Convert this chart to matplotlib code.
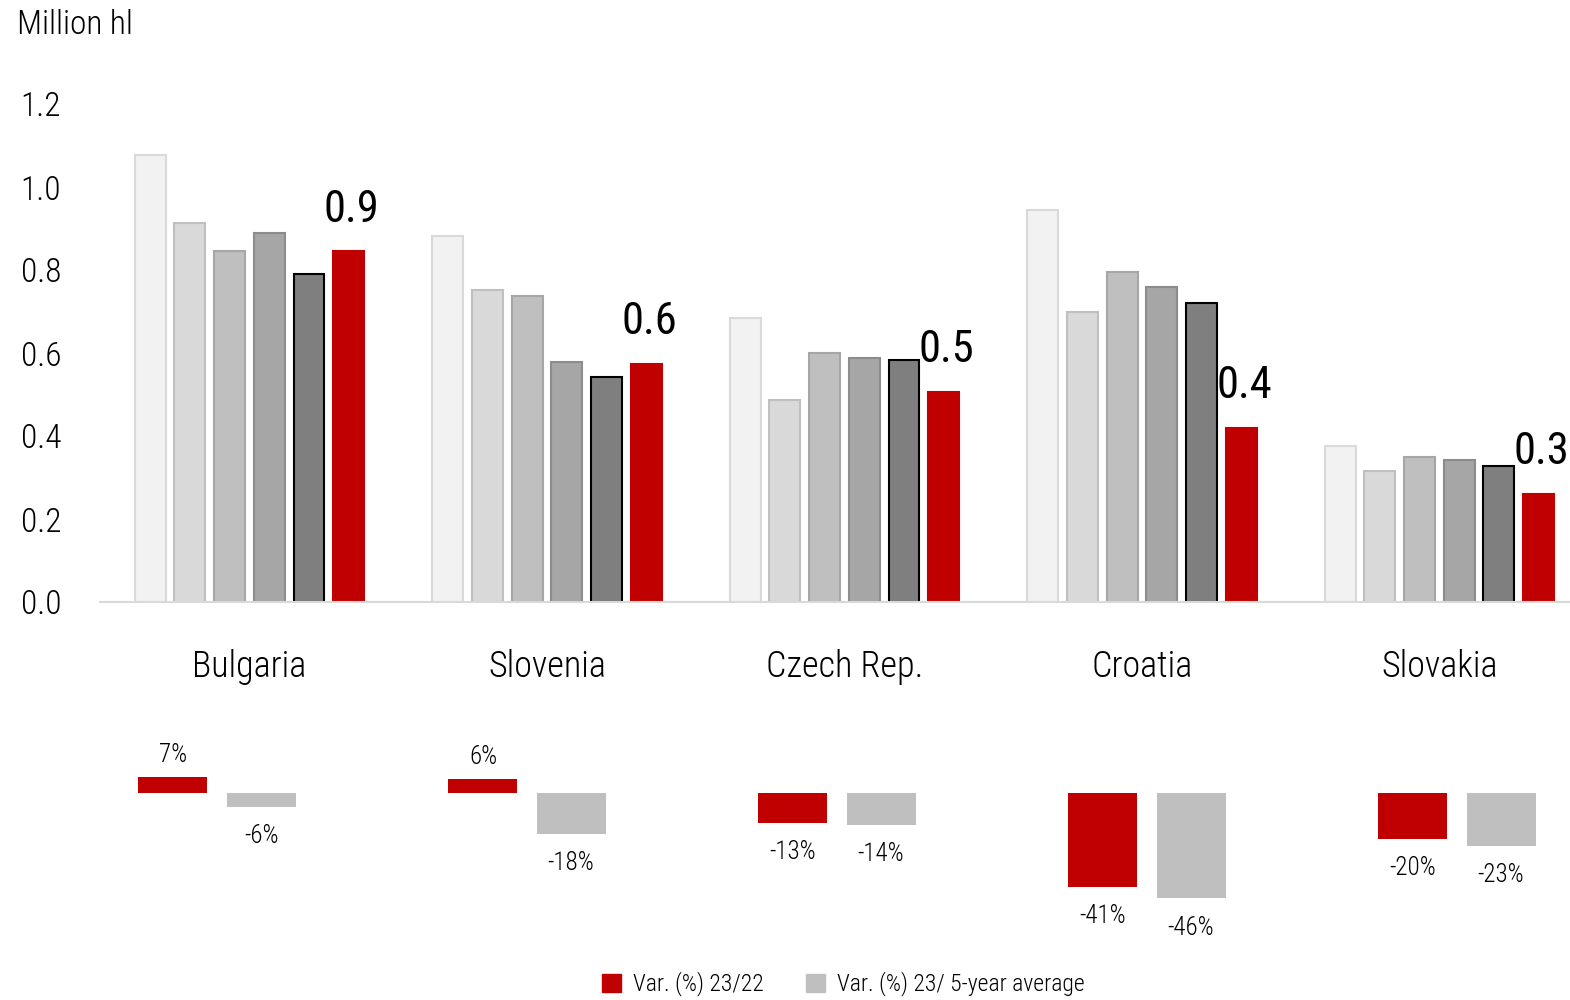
import matplotlib
matplotlib.use("Agg")
import numpy as np
import matplotlib.pyplot as plt
from matplotlib.patches import Patch

plt.rcParams['font.family'] = ['Roboto Condensed', 'Liberation Sans Narrow', 'DejaVu Sans']
plt.rcParams['font.weight'] = 'light'

countries = ['Bulgaria', 'Slovenia', 'Czech Rep.', 'Croatia', 'Slovakia']
years = ['2018', '2019', '2020', '2021', '2022', '2023']
# million hl, one list per year
y2018 = [1.077, 0.882, 0.684, 0.945, 0.376]
y2019 = [0.913, 0.752, 0.487, 0.699, 0.316]
y2020 = [0.846, 0.737, 0.600, 0.795, 0.349]
y2021 = [0.889, 0.578, 0.588, 0.759, 0.342]
y2022 = [0.790, 0.542, 0.583, 0.720, 0.328]
y2023 = [0.845, 0.573, 0.506, 0.419, 0.260]
labels_2023 = ['0.9', '0.6', '0.5', '0.4', '0.3']

var_23_22 = [7, 6, -13, -41, -20]
var_23_avg = [-6, -18, -14, -46, -23]

series = [y2018, y2019, y2020, y2021, y2022, y2023]
faces = ['#F2F2F2', '#D9D9D9', '#BFBFBF', '#A6A6A6', '#7F7F7F', '#C00000']
edges = ['#D9D9D9', '#BFBFBF', '#A6A6A6', '#8C8C8C', '#000000', '#C00000']
red = '#C00000'
grey = '#BFBFBF'

W, H = 1570, 1000
fig = plt.figure(figsize=(15.7, 10), dpi=100)

# main chart
ax = fig.add_axes([100 / W, 1 - 602 / H, 1470 / W, 498 / H])
x = np.arange(len(countries))
pitch = 0.1334
w = 0.104
for i, vals in enumerate(series):
    pos = x + (i - 2.5) * pitch
    ax.bar(pos, vals, width=w, color=faces[i], edgecolor=edges[i], linewidth=1.5,
           label=years[i], zorder=2)
    if i == 5:
        for px, v, t in zip(pos, vals, labels_2023):
            ax.text(px + 0.01, v + 0.05, t, ha='center', va='bottom', fontsize=32,
                    fontweight='normal', color='black', clip_on=False)

ax.set_xlim(-0.5025, 4.439)
ax.set_ylim(0, 1.2)
ax.set_yticks(np.arange(0, 1.21, 0.2))
ax.set_yticklabels([f'{v:.1f}' for v in np.arange(0, 1.21, 0.2)], fontsize=24)
ax.set_xticks(x)
ax.set_xticklabels(countries, fontsize=26)
ax.tick_params(axis='y', length=0, pad=28)
ax.tick_params(axis='x', length=0, pad=34)
for s in ['top', 'right', 'left']:
    ax.spines[s].set_visible(False)
ax.spines['bottom'].set_color('#D9D9D9')
ax.spines['bottom'].set_linewidth(1.5)
fig.text(0.011, 0.975, 'Million hl', fontsize=24, va='center', ha='left')

# variation chart
ax2 = fig.add_axes([100 / W, 1 - 907.5 / H, 1470 / W, 160.3 / H])
x2 = np.arange(len(countries))
bw = 0.2226
off = 0.142
ax2.bar(x2 - off, var_23_22, width=bw, color=red, label='Var. (%) 23/22')
ax2.bar(x2 + off, var_23_avg, width=bw, color=grey, label='Var. (%) 23/ 5-year average')
for xi, a, b in zip(x2, var_23_22, var_23_avg):
    for px, v in ((xi - off, a), (xi + off, b)):
        if v >= 0:
            ax2.text(px, v + 4.5, f'{v}%', ha='center', va='bottom', fontsize=18)
        else:
            ax2.text(px, v - 7.5, f'{v}%', ha='center', va='top', fontsize=18)
ax2.set_xlim((100 - 217) / 310, (1570 - 217) / 310)
ax2.set_ylim(-50, 20)
ax2.axis('off')

handles = [Patch(color=red), Patch(color=grey)]
fig.legend(handles, ['Var. (%) 23/22', 'Var. (%) 23/ 5-year average'],
           loc='center', bbox_to_anchor=(0.537, 0.016), ncol=2, frameon=False,
           fontsize=17, handlelength=0.8, handleheight=0.8, handletextpad=0.5,
           columnspacing=1.8)

fig.savefig('out.png', dpi=100)
